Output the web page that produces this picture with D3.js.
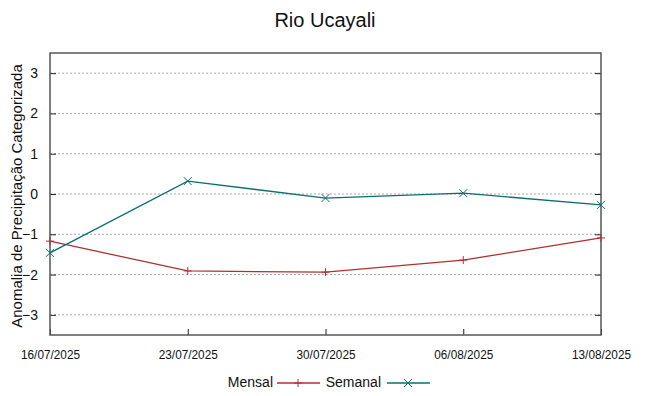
<!DOCTYPE html>
<html>
<head>
<meta charset="utf-8">
<script src="https://cdn.jsdelivr.net/npm/d3@7/dist/d3.min.js"></script>
<style>
  body { margin: 0; background: #fff; }
  text { font-family: "Liberation Sans", Arial, sans-serif; }
</style>
</head>
<body>
<div id="chart"></div>
<script>
// Chart data
const dates = ['16/07/2025', '23/07/2025', '30/07/2025', '06/08/2025', '13/08/2025'];
const mensal = [-1.17, -1.91, -1.94, -1.64, -1.09];
const semanal = [-1.46, 0.32, -0.10, 0.02, -0.27];
const yTicks = [-3, -2, -1, 0, 1, 2, 3];

const width = 649, height = 396;
const margin = { top: 53, right: 48, bottom: 61, left: 50 };

const parse = d3.timeParse('%d/%m/%Y');
const xDates = dates.map(parse);

const svg = d3.select('#chart').append('svg')
    .attr('width', width)
    .attr('height', height);

const x = d3.scaleTime()
    .domain(d3.extent(xDates))
    .range([margin.left, width - margin.right]);

const y = d3.scaleLinear()
    .domain([-3.5, 3.5])
    .range([height - margin.bottom, margin.top]);

// Title
svg.append('text')
    .attr('x', 325)
    .attr('y', 27)
    .attr('text-anchor', 'middle')
    .attr('font-size', '20px')
    .attr('fill', '#111')
    .text('Rio Ucayali');

// Grid lines
svg.append('g')
    .selectAll('line')
    .data(yTicks)
    .join('line')
    .attr('x1', margin.left)
    .attr('x2', width - margin.right)
    .attr('y1', d => y(d))
    .attr('y2', d => y(d))
    .attr('stroke', '#aaa')
    .attr('stroke-width', 1)
    .attr('stroke-dasharray', '2,2');

// Axes with inward ticks
const yLeft = svg.append('g')
    .attr('transform', `translate(${margin.left},0)`)
    .call(d3.axisLeft(y).tickValues(yTicks).tickSize(-6).tickPadding(12).tickFormat(d3.format('d')));
const yRight = svg.append('g')
    .attr('transform', `translate(${width - margin.right},0)`)
    .call(d3.axisRight(y).tickValues(yTicks).tickSize(-6).tickFormat(''));
const xBottom = svg.append('g')
    .attr('transform', `translate(0,${height - margin.bottom})`)
    .call(d3.axisBottom(x).tickValues(xDates).tickSize(-6).tickPadding(15)
        .tickFormat(d3.timeFormat('%d/%m/%Y')));

[yLeft, yRight, xBottom].forEach(g => {
    g.select('.domain').remove();
    g.selectAll('.tick line').attr('stroke', '#222');
});
yLeft.selectAll('.tick text').attr('font-size', '14px').attr('fill', '#111')
    .attr('font-family', '"Liberation Sans", Arial, sans-serif');
xBottom.selectAll('.tick text').attr('font-size', '12px').attr('fill', '#111')
    .attr('font-family', '"Liberation Sans", Arial, sans-serif')
    .attr('textLength', 59)
    .attr('lengthAdjust', 'spacingAndGlyphs')
    .attr('dy', '0.71em');

// Frame
svg.append('rect')
    .attr('x', margin.left)
    .attr('y', margin.top)
    .attr('width', width - margin.left - margin.right)
    .attr('height', height - margin.top - margin.bottom)
    .attr('fill', 'none')
    .attr('stroke', '#555')
    .attr('stroke-width', 1.5);

// Y label
svg.append('text')
    .attr('transform', `translate(22,196) rotate(-90)`)
    .attr('text-anchor', 'middle')
    .attr('font-size', '15px')
    .attr('fill', '#111')
    .text('Anomalia de Precipitação Categorizada');

const series = [
    { name: 'Mensal', values: mensal, color: '#b03030', marker: 'plus' },
    { name: 'Semanal', values: semanal, color: '#0a6e6e', marker: 'cross' }
];

const line = d3.line()
    .x((d, i) => x(xDates[i]))
    .y(d => y(d));

function drawMarker(g, type, cx, cy, color) {
    const s = 4;
    if (type === 'plus') {
        g.append('path').attr('d', `M${cx - s},${cy}H${cx + s}M${cx},${cy - s}V${cy + s}`)
            .attr('stroke', color).attr('stroke-width', 1);
    } else {
        g.append('path').attr('d', `M${cx - s},${cy - s}L${cx + s},${cy + s}M${cx - s},${cy + s}L${cx + s},${cy - s}`)
            .attr('stroke', color).attr('stroke-width', 1);
    }
}

series.forEach(s => {
    svg.append('path')
        .datum(s.values)
        .attr('fill', 'none')
        .attr('stroke', s.color)
        .attr('stroke-width', 1.3)
        .attr('d', line);
    const g = svg.append('g');
    s.values.forEach((v, i) => drawMarker(g, s.marker, x(xDates[i]), y(v), s.color));
});

// Legend
const legend = svg.append('g');
const legendItems = [
    { name: 'Mensal', tx: 273, lx: 277, color: '#b03030', marker: 'plus' },
    { name: 'Semanal', tx: 381, lx: 387, color: '#0a6e6e', marker: 'cross' }
];
legendItems.forEach(it => {
    legend.append('text')
        .attr('x', it.tx)
        .attr('y', 387)
        .attr('text-anchor', 'end')
        .attr('font-size', '14px')
        .attr('fill', '#111')
        .text(it.name);
    legend.append('line')
        .attr('x1', it.lx).attr('x2', it.lx + 43)
        .attr('y1', 383).attr('y2', 383)
        .attr('stroke', it.color).attr('stroke-width', 1.3);
    drawMarker(legend, it.marker, it.lx + 21, 383, it.color);
});
</script>
</body>
</html>
